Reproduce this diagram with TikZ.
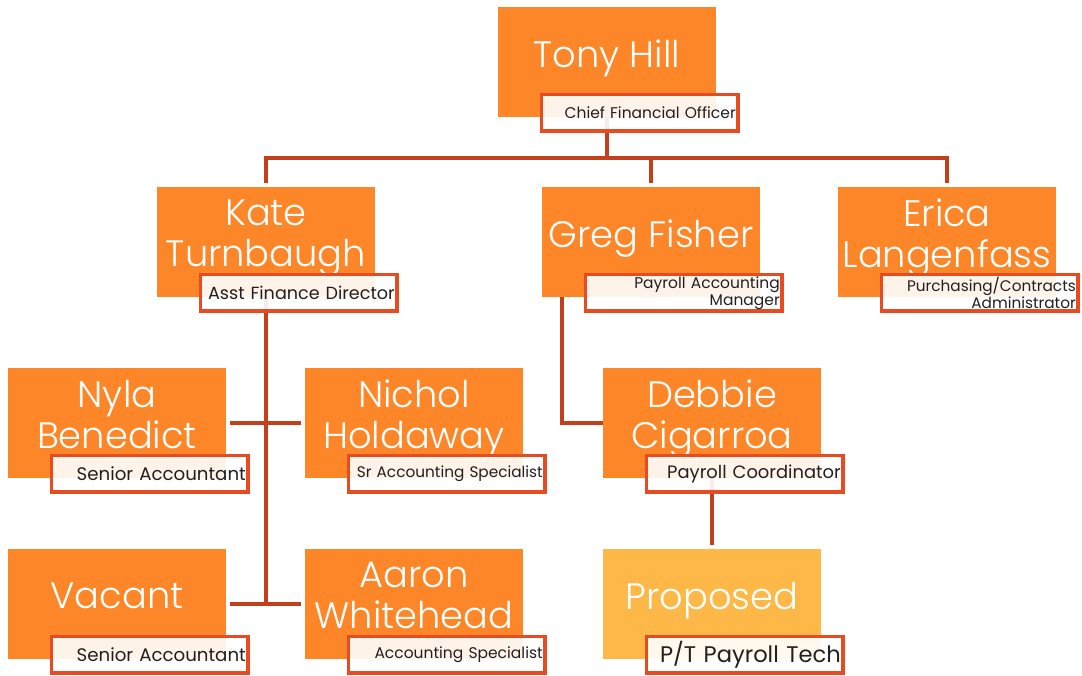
\documentclass[tikz,border=0pt]{standalone}
\usepackage{fontspec}
\setmainfont{Poppins}
\newfontfamily\namefont{Poppins}[UprightFont=* Light]
\usetikzlibrary{positioning}
\definecolor{boxorange}{HTML}{FD8628}
\definecolor{boxyellow}{HTML}{FDB848}
\definecolor{titlered}{HTML}{E64B22}
\definecolor{linkred}{HTML}{C2401C}
\definecolor{titletext}{HTML}{231F20}
\tikzset{
	namebox/.style={on grid, fill=boxorange, text=white, minimum width=218pt,
		minimum height=110pt, inner sep=0pt, align=center, text depth=17pt,
		font=\namefont\fontsize{36.8}{41}\selectfont},
	titlebox/.style={draw=titlered, line width=3.5pt, fill=white, fill opacity=0.9,
		text opacity=1, text=titletext, minimum width=196.5pt, minimum height=36.5pt,
		text width=192pt, inner xsep=2pt, inner ysep=0pt, align=right},
	fs/.style={font=\fontsize{#1}{17}\selectfont},
	link/.style={draw=linkred, line width=3.5pt},
}

\begin{document}
\begin{tikzpicture}
	\useasboundingbox (0,0) rectangle (1082pt,-675pt);

	\node[namebox] (tony) at (607pt,-62pt) {Tony Hill};
	\node[namebox, below left=180pt and 341pt of tony] (kate) {Kate\\Turnbaugh};
	\node[namebox, below right=180pt and 44pt of tony] (greg) {Greg Fisher};
	\node[namebox, right=296pt of greg] (erica) {Erica\\Langenfass};
	\node[namebox, below left=181pt and 149pt of kate] (nyla) {Nyla\\Benedict};
	\node[namebox, right=297pt of nyla] (nichol) {Nichol\\Holdaway};
	\node[namebox, right=298pt of nichol] (debbie) {Debbie\\Cigarroa};
	\node[namebox, below=181pt of nyla] (vacant) {Vacant};
	\node[namebox, right=297pt of vacant] (aaron) {Aaron\\Whitehead};
	\node[namebox, fill=boxyellow, below=181pt of debbie] (proposed) {Proposed};

	\coordinate[below=41pt of tony.south] (bus);
	\draw[link] (tony.south) -- (bus);
	\draw[link, shorten <=4pt, shorten >=4pt] (kate.north) |- (bus) -| (erica.north);
	\draw[link, shorten <=4pt] (greg.north) -- (greg.north |- bus);
	\draw[link] (kate.south) -- (kate.south |- vacant.east);
	\draw[link, shorten <=4pt, shorten >=4pt] (nyla.east) -- (nichol.west);
	\draw[link, shorten <=4pt, shorten >=4pt] (vacant.east) -- (aaron.west);
	\draw[link] ([xshift=20pt]greg.south west) |- (debbie.west);
	\draw[link, shorten >=4pt] (debbie.south) -- (proposed.north);

	\node[titlebox, fs=15.5, below right=86pt and 42pt of tony.north west] (tonyT) {Chief Financial Officer};
	\node[titlebox, fs=17.6, below right=86pt and 42pt of kate.north west] (kateT) {Asst Finance Director};
	\node[titlebox, fs=15.5, below right=86pt and 42pt of greg.north west] (gregT) {Payroll Accounting\\Manager};
	\node[titlebox, fs=15.3, below right=86pt and 42pt of erica.north west] (ericaT) {Purchasing/Contracts\\Administrator};
	\node[titlebox, fs=18.2, below right=86pt and 42pt of nyla.north west] (nylaT) {Senior Accountant};
	\node[titlebox, fs=15.3, below right=86pt and 42pt of nichol.north west] (nicholT) {Sr Accounting Specialist};
	\node[titlebox, fs=17.9, below right=86pt and 42pt of debbie.north west] (debbieT) {Payroll Coordinator};
	\node[titlebox, fs=18.2, below right=86pt and 42pt of vacant.north west] (vacantT) {Senior Accountant};
	\node[titlebox, fs=15.5, below right=86pt and 42pt of aaron.north west] (aaronT) {Accounting Specialist};
	\node[titlebox, fs=22.6, below right=86pt and 42pt of proposed.north west] (proposedT) {P/T Payroll Tech};
\end{tikzpicture}
\end{document}
